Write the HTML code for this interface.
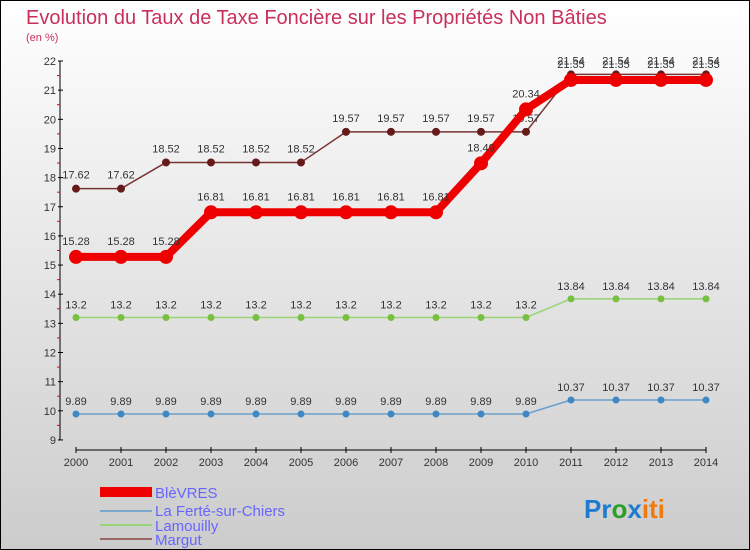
<!DOCTYPE html>
<html><head><meta charset="utf-8"><style>
body{margin:0}
#c{width:748px;height:548px;border:1px solid #000;background:linear-gradient(#fff,#ccc);position:relative;font-family:"Liberation Sans",sans-serif;overflow:hidden}
</style></head><body>
<div id="c">
<svg width="748" height="548" id="svg" style="position:absolute;left:0;top:0">
<text x="25" y="23" font-size="20" fill="#c8305a">Evolution du Taux de Taxe Foncière sur les Propriétés Non Bâties</text>
<text x="25" y="40" font-size="11" fill="#c8305a">(en %)</text>
<g id="axes"></g><g id="series"></g>
<g font-size="15" fill="#6666ff">
<rect x="99" y="486" width="52" height="10" fill="#e00"/>
<text x="154" y="497">BlèVRES</text>
<rect x="99" y="509" width="52" height="2" fill="#7aa9cc"/>
<text x="154" y="515">La Ferté-sur-Chiers</text>
<rect x="99" y="523" width="52" height="2" fill="#99d377"/>
<text x="154" y="530">Lamouilly</text>
<rect x="99" y="537" width="52" height="2" fill="#9a6666"/>
<text x="154" y="544">Margut</text>
</g>
<text x="583" y="517" font-size="26" font-weight="bold"><tspan fill="#1f7bd0">Pr</tspan><tspan fill="#2aa02a">o</tspan><tspan fill="#1f7bd0">x</tspan><tspan fill="#f07a10">iti</tspan></text>
</svg></div>
<script>
const years=[2000,2001,2002,2003,2004,2005,2006,2007,2008,2009,2010,2011,2012,2013,2014];
const yTicks=[9,10,11,12,13,14,15,16,17,18,19,20,21,22];
const blevres=[15.28,15.28,15.28,16.81,16.81,16.81,16.81,16.81,16.81,18.49,20.34,21.35,21.35,21.35,21.35];
const laferte=[9.89,9.89,9.89,9.89,9.89,9.89,9.89,9.89,9.89,9.89,9.89,10.37,10.37,10.37,10.37];
const lamouilly=[13.2,13.2,13.2,13.2,13.2,13.2,13.2,13.2,13.2,13.2,13.2,13.84,13.84,13.84,13.84];
const margut=[17.62,17.62,18.52,18.52,18.52,18.52,19.57,19.57,19.57,19.57,19.57,21.54,21.54,21.54,21.54];
const NS="http://www.w3.org/2000/svg";
const X=y=>75+(y-2000)*45, Y=v=>60+(22-v)*29.15;
function mk(t,a,p){const e=document.createElementNS(NS,t);for(const k in a)e.setAttribute(k,a[k]);p.appendChild(e);return e;}
const ax=document.getElementById('axes');
let e=mk('line',{x1:59,y1:Y(22),x2:59,y2:Y(9),stroke:'#000'},ax);


e=mk('line',{x1:X(2000),y1:449,x2:X(2014),y2:449,stroke:'#000'},ax);


yTicks.forEach(v=>{mk('line',{x1:57,x2:62,y1:Y(v),y2:Y(v),stroke:'#000'},ax);
 if(v<22)mk('line',{x1:56,x2:59,y1:Y(v+0.5),y2:Y(v+0.5),stroke:'#e00'},ax);
 const t=mk('text',{x:55,y:Y(v)+4,'text-anchor':'end','font-size':11,fill:'#333'},ax);t.textContent=v;
 
 });
years.forEach(y=>{mk('line',{x1:X(y),x2:X(y),y1:446,y2:452,stroke:'#000'},ax);
 const t=mk('text',{x:X(y),y:465,'text-anchor':'middle','font-size':11,fill:'#333'},ax);t.textContent=y;
 
 });
const sg=document.getElementById('series');
function draw(d,name,col,w,r,dot,lbl){
 const g=mk('g',{},sg);
 
 
 mk('polyline',{points:d.map((v,i)=>X(years[i])+','+Y(v)).join(' '),fill:'none',stroke:col,'stroke-width':w,'stroke-linejoin':'round'},g);
 d.forEach((v,i)=>{const c=mk('circle',{cx:X(years[i]),cy:Y(v),r:r,fill:dot},g);
  
  
  const t=mk('text',{x:X(years[i]),y:Y(v)-lbl,'text-anchor':'middle','font-size':11,fill:'#333'},g);t.textContent=v;
  
  });
}
draw(laferte,'laferte','#6a9fcc',1.5,3.5,'#3f88c5',9);
draw(lamouilly,'lamouilly','#99d377',1.5,3.5,'#77c040',9);
draw(margut,'margut','#7a3333',1.5,4,'#661a1a',10);
draw(blevres,'blevres','#ee0000',8,7,'#ee0000',12);
</script>
</body></html>
